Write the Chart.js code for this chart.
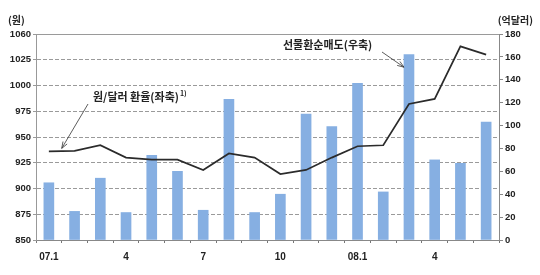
<!DOCTYPE html>
<html>
<head>
<meta charset="utf-8">
<script src="https://cdn.jsdelivr.net/npm/chart.js@4/dist/chart.umd.min.js"></script>
<style>
html,body{margin:0;padding:0;background:#fff;}
canvas{display:block;}
</style>
</head>
<body>
<canvas id="c" width="540" height="275"></canvas>
<script>
const categories = ['07.1','','','4','','','7','','','10','','','08.1','','','4','',''];
const exchangeRate = [936, 936.5, 942, 930, 928, 928, 918, 934, 930, 914, 918, 930, 941, 942, 982, 987, 1038, 1030];
const forwardNetSales = [50, 25, 54, 24, 74, 60, 26, 123, 24, 40, 110, 99, 137, 42, 162, 70, 67, 103];
const leftTicks = {min: 850, max: 1050, step: 25, topLabel: '1060'};
const rightTicks = {min: 0, max: 180, step: 20};

const FONT = "'Liberation Sans', Arial, sans-serif";
const KFONT = "'Noto Sans CJK KR', 'Noto Sans', sans-serif";

const annot = {
  id: 'annot',
  afterDraw(chart) {
    const ctx = chart.ctx;
    const x = chart.scales.x, yl = chart.scales.yL, yr = chart.scales.yR;
    ctx.save();
    // top frame line
    ctx.strokeStyle = '#9a9a9a';
    ctx.lineWidth = 1;
    ctx.beginPath();
    ctx.moveTo(chart.chartArea.left, chart.chartArea.top + 0.5);
    ctx.lineTo(chart.chartArea.right, chart.chartArea.top + 0.5);
    ctx.stroke();

    ctx.fillStyle = '#222';
    ctx.textBaseline = 'middle';
    ctx.font = "bold 10px " + KFONT;
    ctx.textAlign = 'left';
    ctx.fillText('(원)', 8, 20);
    ctx.textAlign = 'right';
    ctx.fillText('(억달러)', 533, 20);

    ctx.font = "bold 11px " + KFONT;
    ctx.textAlign = 'left';
    const t1 = '원/달러 환율(좌축)';
    ctx.fillText(t1, 93, 97);
    const w1 = ctx.measureText(t1).width;
    ctx.font = "bold 7px " + KFONT;
    ctx.fillText('1)', 93 + w1 + 1, 93);
    ctx.font = "bold 11px " + KFONT;
    ctx.fillText('선물환순매도(우축)', 283, 45);

    function arrow(x1, y1, x2, y2) {
      ctx.strokeStyle = '#333';
      ctx.fillStyle = '#333';
      ctx.lineWidth = 0.8;
      ctx.beginPath();
      ctx.moveTo(x1, y1);
      ctx.lineTo(x2, y2);
      ctx.stroke();
      const a = Math.atan2(y2 - y1, x2 - x1);
      const L = 7, W = 0.35;
      ctx.beginPath();
      ctx.moveTo(x2, y2);
      ctx.lineTo(x2 - L * Math.cos(a - W), y2 - L * Math.sin(a - W));
      ctx.moveTo(x2, y2);
      ctx.lineTo(x2 - L * Math.cos(a + W), y2 - L * Math.sin(a + W));
      ctx.stroke();
    }
    arrow(88, 104, x.getPixelForValue(0.5), yl.getPixelForValue(937) - 2);
    arrow(382, 52, x.getPixelForValue(14) - 5, yr.getPixelForValue(151));
    ctx.restore();
  }
};

new Chart(document.getElementById('c'), {
  data: {
    labels: categories,
    datasets: [
      {
        type: 'line',
        data: exchangeRate,
        yAxisID: 'yL',
        borderColor: '#2b2b2b',
        borderWidth: 1.7,
        pointRadius: 0,
        tension: 0,
        order: 0
      },
      {
        type: 'bar',
        data: forwardNetSales,
        yAxisID: 'yR',
        backgroundColor: '#86afe2',
        borderWidth: 0,
        barThickness: 10,
        order: 1
      }
    ]
  },
  options: {
    responsive: false,
    animation: false,
    layout: {padding: {top: 34, left: 0, right: 0, bottom: 0}},
    plugins: {legend: {display: false}, tooltip: {enabled: false}},
    scales: {
      x: {
        offset: true,
        grid: {offset: true, drawOnChartArea: false, tickLength: 3, color: '#777'},
        border: {display: true, color: '#888', width: 1},
        ticks: {autoSkip: false, maxRotation: 0, color: '#222', padding: 8,
                font: {family: FONT, size: 10, weight: 'bold'}},
        afterFit(s) { s.height = 35; }
      },
      yL: {
        position: 'left',
        min: leftTicks.min, max: leftTicks.max,
        grid: {
          color: '#9a9a9a', lineWidth: 1, tickLength: 3,
        },
        border: {display: true, color: '#999', width: 1,
                 dash: (c) => (c.tick && (c.tick.value === leftTicks.max || c.tick.value === leftTicks.min)) ? [] : [4, 2]},
        ticks: {
          stepSize: leftTicks.step, color: '#222', padding: 2,
          font: {family: FONT, size: 9.5, weight: 'bold'},
          callback: (v) => v === leftTicks.max ? leftTicks.topLabel : String(v)
        },
        afterFit(s) { s.width = 36; }
      },
      yR: {
        position: 'right',
        min: rightTicks.min, max: rightTicks.max,
        grid: {drawOnChartArea: false, tickLength: 4, color: '#888'},
        border: {display: true, color: '#888', width: 1},
        ticks: {
          stepSize: rightTicks.step, color: '#222', padding: 2,
          font: {family: FONT, size: 9.5, weight: 'bold'}
        },
        afterFit(s) { s.width = 41; }
      }
    }
  },
  plugins: [annot]
});
</script>
</body>
</html>
